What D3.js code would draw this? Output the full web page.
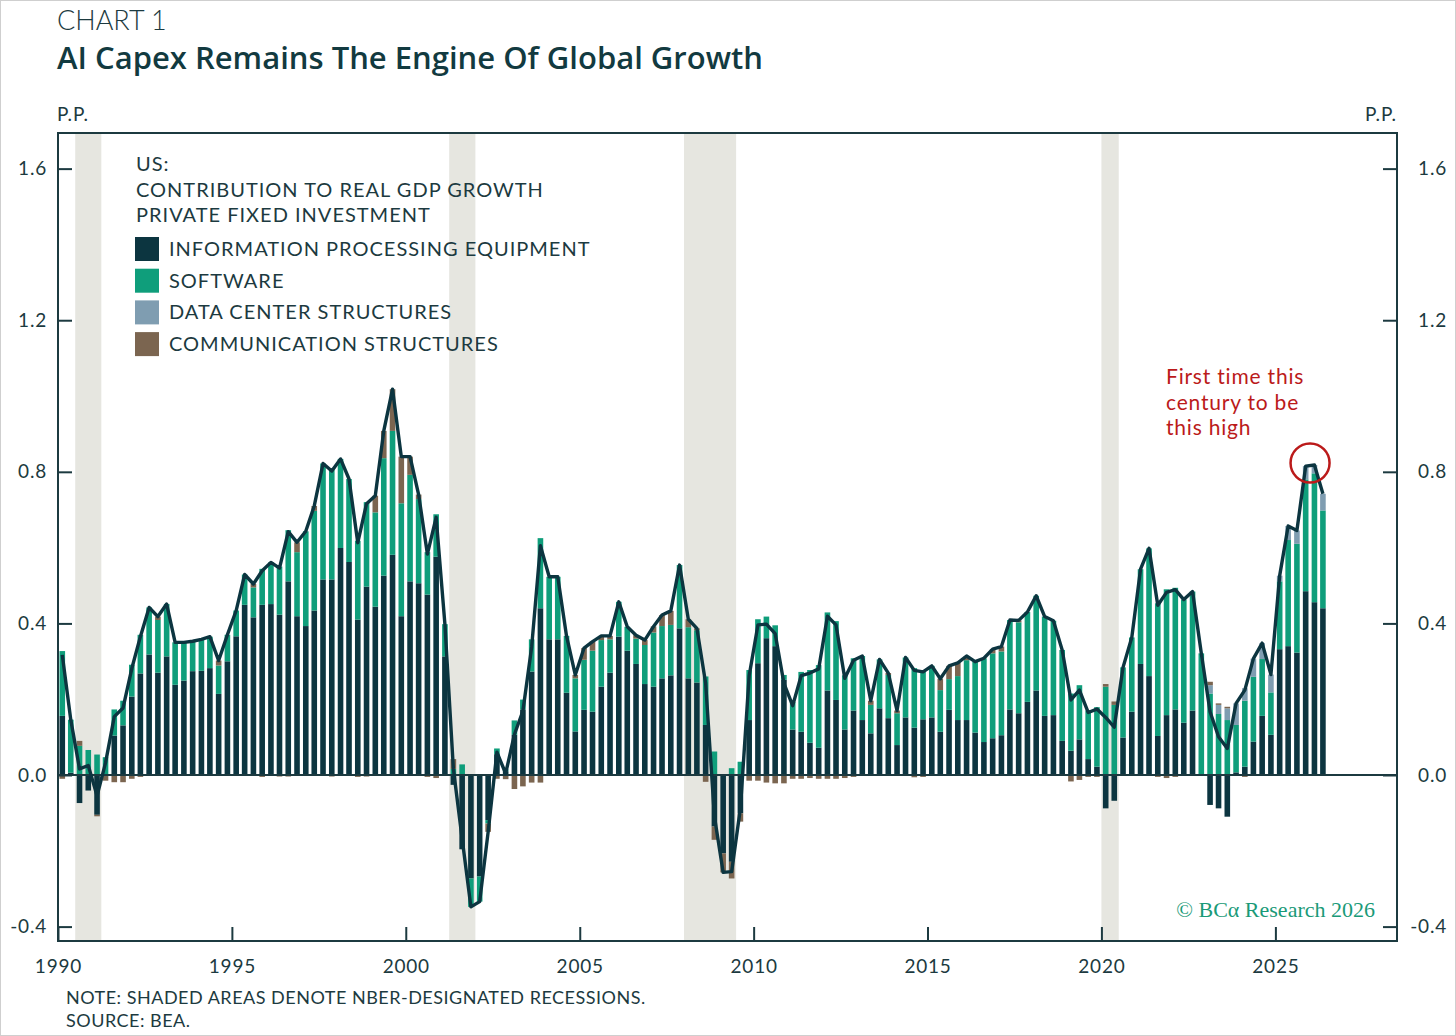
<!DOCTYPE html>
<html>
<head>
<meta charset="utf-8">
<script src="https://cdn.jsdelivr.net/npm/d3@7"></script>
<style>
body { margin: 0; background: #fff; }
</style>
</head>
<body>
<div id="chart"></div>
<script>
// Canvas
var w = 1456;
var h = 1036;
var plotLeft = 58, plotRight = 1397, plotTop = 133, plotBottom = 941;

// Quarterly data, 1990Q1 .. 2026Q2 (contribution to real GDP growth, p.p.)
var startYear = 1990;

var infoEquip = [
    0.156, 0.006, -0.074, -0.041, -0.105, 0.000, 0.104, 0.131,
    0.207, 0.268, 0.318, 0.270, 0.313, 0.238, 0.249, 0.274,
    0.275, 0.282, 0.214, 0.300, 0.366, 0.449, 0.416, 0.449,
    0.451, 0.423, 0.511, 0.419, 0.393, 0.434, 0.516, 0.516,
    0.599, 0.562, 0.410, 0.497, 0.444, 0.526, 0.581, 0.419,
    0.511, 0.506, 0.476, 0.576, 0.313, -0.026, -0.196, -0.273,
    -0.268, -0.119, 0.055, 0.010, 0.106, 0.173, 0.273, 0.440,
    0.358, 0.358, 0.217, 0.115, 0.172, 0.167, 0.233, 0.270,
    0.365, 0.328, 0.293, 0.240, 0.233, 0.255, 0.263, 0.387,
    0.255, 0.244, 0.132, -0.136, -0.207, -0.229, -0.101, 0.145,
    0.295, 0.361, 0.340, 0.251, 0.120, 0.114, 0.085, 0.072,
    0.223, 0.198, 0.120, 0.170, 0.145, 0.110, 0.176, 0.150,
    0.079, 0.152, 0.125, 0.147, 0.152, 0.114, 0.172, 0.145,
    0.145, 0.112, 0.087, 0.097, 0.105, 0.173, 0.163, 0.193,
    0.223, 0.156, 0.158, 0.090, 0.064, 0.094, 0.042, 0.022,
    -0.088, -0.068, 0.099, 0.167, 0.293, 0.261, 0.103, 0.158,
    0.173, 0.138, 0.170, 0.000, -0.079, -0.088, -0.110, 0.007,
    0.022, 0.088, 0.156, 0.106, 0.332, 0.340, 0.323, 0.485,
    0.456, 0.440
];

var software = [
    0.171, 0.140, 0.077, 0.066, 0.054, 0.047, 0.069, 0.065,
    0.084, 0.102, 0.124, 0.139, 0.138, 0.112, 0.101, 0.079,
    0.083, 0.083, 0.075, 0.070, 0.068, 0.080, 0.079, 0.095,
    0.110, 0.127, 0.135, 0.169, 0.250, 0.263, 0.306, 0.290,
    0.235, 0.219, 0.208, 0.223, 0.249, 0.310, 0.327, 0.298,
    0.281, 0.222, 0.112, 0.112, 0.085, 0.016, 0.028, -0.075,
    -0.066, -0.009, 0.015, 0.005, 0.038, 0.026, 0.085, 0.185,
    0.165, 0.165, 0.150, 0.140, 0.132, 0.161, 0.123, 0.088,
    0.092, 0.063, 0.067, 0.103, 0.143, 0.138, 0.133, 0.167,
    0.135, 0.138, 0.128, 0.062, 0.000, 0.018, 0.035, 0.132,
    0.116, 0.057, 0.055, 0.013, 0.073, 0.158, 0.192, 0.218,
    0.206, 0.208, 0.143, 0.138, 0.169, 0.075, 0.129, 0.114,
    0.084, 0.158, 0.157, 0.130, 0.136, 0.110, 0.081, 0.116,
    0.158, 0.187, 0.221, 0.224, 0.221, 0.236, 0.240, 0.237,
    0.250, 0.262, 0.249, 0.240, 0.151, 0.143, 0.128, 0.157,
    0.233, 0.185, 0.185, 0.196, 0.250, 0.337, 0.350, 0.332,
    0.321, 0.325, 0.314, 0.321, 0.215, 0.161, 0.145, 0.125,
    0.174, 0.171, 0.150, 0.112, 0.179, 0.280, 0.287, 0.295,
    0.340, 0.258
];

var dataCenter = [
    0, 0, 0, 0, 0, 0, 0, 0, 0, 0, 0, 0, 0, 0, 0, 0,
    0, 0, 0, 0, 0, 0, 0, 0, 0, 0, 0, 0, 0, 0, 0, 0,
    0, 0, 0, 0, 0, 0, 0, 0, 0, 0, 0, 0, 0, 0, 0, 0,
    0, 0, 0, 0, 0, 0, 0, 0, 0, 0, 0, 0, 0, 0, 0, 0,
    0, 0, 0, 0, 0, 0, 0, 0, 0, 0, 0, 0, 0, 0, 0, 0,
    0, 0, 0, 0, 0, 0, 0, 0, 0, 0, 0, 0, 0, 0, 0, 0,
    0, 0, 0, 0, 0, 0, 0, 0, 0, 0, 0, 0, 0, 0, 0, 0,
    0, 0, 0, 0, 0, 0, 0, 0, 0, 0, 0, 0, 0, 0, 0, 0,
    0, 0, 0, 0, 0.022, 0.024, 0.031, 0.057,
    0.033, 0.048, 0.042, 0.047, 0.015, 0.037, 0.035, 0.035,
    0.022, 0.044
];

var commStruct = [
    -0.010, 0.000, 0.013, 0.000, -0.004, -0.015, -0.019, -0.019,
    -0.010, -0.005, 0.000, 0.009, 0.000, 0.000, 0.000, 0.000,
    0.000, 0.000, 0.013, 0.000, 0.000, 0.000, 0.009, -0.005,
    0.000, -0.004, -0.004, 0.026, 0.000, 0.013, 0.000, -0.004,
    0.000, 0.000, -0.005, -0.004, 0.044, 0.072, 0.110, 0.123,
    0.048, 0.012, -0.005, -0.008, 0.000, 0.026, 0.000, 0.000,
    0.000, -0.022, -0.010, -0.011, -0.037, -0.030, -0.020, -0.020,
    0.000, 0.000, 0.000, 0.009, 0.031, 0.024, 0.011, 0.009,
    0.000, 0.000, 0.009, 0.013, 0.016, 0.029, 0.037, 0.000,
    0.021, 0.005, -0.018, -0.035, -0.050, -0.044, -0.022, -0.015,
    -0.015, -0.020, -0.022, -0.022, -0.010, -0.010, -0.008, -0.010,
    -0.010, -0.010, -0.008, -0.005, 0.000, 0.011, 0.000, 0.005,
    0.007, 0.000, -0.006, -0.005, 0.000, 0.030, 0.035, 0.035,
    0.011, 0.000, 0.000, 0.011, 0.013, 0.000, 0.005, 0.000,
    0.000, 0.000, 0.000, 0.000, -0.017, -0.013, -0.005, -0.005,
    0.007, 0.009, 0.000, 0.000, 0.000, 0.000, -0.005, -0.008,
    -0.005, 0.000, 0.000, 0.000, 0.009, 0.004, 0.004, 0.000,
    -0.005, 0.000, 0.000, 0.000, 0.000, 0.000, 0.000, 0.000,
    0.000, 0.000
];

var names = ["INFORMATION PROCESSING EQUIPMENT", "SOFTWARE", "DATA CENTER STRUCTURES", "COMMUNICATION STRUCTURES"];
var keys = ["infoEquip", "software", "dataCenter", "commStruct"];
var colors = ["#0c3540", "#0f9e7b", "#7f9db1", "#7b6550"];

// NBER recessions, shaded by quarter (start, end)
var recessions = [[1990.5, 1991.25], [2001.25, 2002.0], [2008.0, 2009.5], [2020.0, 2020.5]];

var yTicks = [-0.4, 0, 0.4, 0.8, 1.2, 1.6];
var xTickYears = [1990, 1995, 2000, 2005, 2010, 2015, 2020, 2025];

var ink = "#1c3a40";
var red = "#bb1a1a";
var sans = "Lato, sans-serif";

// build rows
var rows = infoEquip.map(function (v, i) {
    var yr = startYear + Math.floor(i / 4);
    var q = i % 4;
    return {
        date: new Date(yr, q * 3 + 1, 15),
        infoEquip: v,
        software: software[i],
        dataCenter: dataCenter[i],
        commStruct: commStruct[i],
        total: v + software[i] + dataCenter[i] + commStruct[i]
    };
});

var decimalDate = function (t) {
    var yr = Math.floor(t);
    return new Date(yr, Math.round((t - yr) * 12), 1);
};

var svg = d3.select("#chart")
    .append("svg")
    .attr("width", w)
    .attr("height", h)
    .attr("font-family", sans);

svg.append("rect")
    .attr("x", 0.5).attr("y", 0.5)
    .attr("width", w - 1).attr("height", h - 1)
    .attr("fill", "#fff")
    .attr("stroke", "#cfcfcf");

var xScale = d3.scaleTime()
    .domain([new Date(1990, 0, 1), new Date(2028, 6, 1)])
    .range([plotLeft, plotRight]);

var yScale = d3.scaleLinear()
    .domain([-0.438, 1.694])
    .range([plotBottom, plotTop]);

var barW = 5.6;

// recession shading
svg.selectAll("rect.rec")
    .data(recessions)
    .enter()
    .append("rect")
    .attr("class", "rec")
    .attr("x", function (d) { return xScale(decimalDate(d[0])); })
    .attr("width", function (d) { return xScale(decimalDate(d[1])) - xScale(decimalDate(d[0])); })
    .attr("y", plotTop)
    .attr("height", plotBottom - plotTop)
    .attr("fill", "#e6e6e0");

// stacked bars
var stacked = d3.stack()
    .keys(keys)
    .offset(d3.stackOffsetDiverging)(rows);

svg.append("g")
    .selectAll("g")
    .data(stacked)
    .enter()
    .append("g")
    .attr("fill", function (d, i) { return colors[i]; })
    .selectAll("rect")
    .data(function (d) { return d.filter(function (p) { return p[1] !== p[0]; }); })
    .enter()
    .append("rect")
    .attr("x", function (d) { return xScale(d.data.date) - barW / 2; })
    .attr("y", function (d) { return yScale(Math.max(d[0], d[1])); })
    .attr("height", function (d) { return Math.abs(yScale(d[0]) - yScale(d[1])); })
    .attr("width", barW);

// zero line
svg.append("line")
    .attr("x1", plotLeft).attr("x2", plotRight)
    .attr("y1", yScale(0)).attr("y2", yScale(0))
    .attr("stroke", ink)
    .attr("stroke-width", 2);

// total line
var totalLine = d3.line()
    .x(function (d) { return xScale(d.date); })
    .y(function (d) { return yScale(d.total); });

svg.append("path")
    .datum(rows)
    .attr("d", totalLine)
    .attr("fill", "none")
    .attr("stroke", "#0c3540")
    .attr("stroke-width", 3.4)
    .attr("stroke-linejoin", "round");

// axes
var fmt = function (d) { return d3.format(".1f")(d).replace("\u2212", "-"); };

var yAxisL = d3.axisLeft(yScale).tickValues(yTicks).tickSize(-14).tickPadding(11).tickFormat(fmt);
var yAxisR = d3.axisRight(yScale).tickValues(yTicks).tickSize(-14).tickPadding(50).tickFormat(fmt);
var xAxis = d3.axisBottom(xScale)
    .tickValues(xTickYears.map(function (y) { return new Date(y, 0, 1); }))
    .tickSize(-14).tickPadding(19)
    .tickFormat(d3.timeFormat("%Y"));

var styleAxis = function (g) {
    g.select(".domain").remove();
    g.selectAll("line").attr("stroke", ink).attr("stroke-width", 2);
    g.selectAll("text").attr("fill", ink).attr("font-size", "19px")
        .attr("letter-spacing", "0.8px")
        .attr("font-family", sans);
};

svg.append("g").attr("transform", "translate(" + plotLeft + ",0)").call(yAxisL).call(styleAxis);
svg.append("g").attr("transform", "translate(" + plotRight + ",0)").call(yAxisR).call(styleAxis)
    .selectAll("text").attr("text-anchor", "end");
svg.append("g").attr("transform", "translate(0," + plotBottom + ")").call(xAxis).call(styleAxis);

// frame
svg.append("rect")
    .attr("x", plotLeft).attr("y", plotTop)
    .attr("width", plotRight - plotLeft)
    .attr("height", plotBottom - plotTop)
    .attr("fill", "none")
    .attr("stroke", ink)
    .attr("stroke-width", 2);

// titles
svg.append("text")
    .attr("x", 57).attr("y", 30)
    .attr("fill", ink)
    .attr("font-size", "27px")
    .attr("font-weight", 300)
    .text("CHART 1");

svg.append("text")
    .attr("x", 57).attr("y", 69)
    .attr("fill", "#123a40")
    .attr("font-size", "31px")
    .attr("font-weight", 600)
    .attr("font-family", "'Open Sans', sans-serif")
    .text("AI Capex Remains The Engine Of Global Growth");

svg.append("text")
    .attr("x", 57).attr("y", 121)
    .attr("fill", ink).attr("font-size", "19px")
    .attr("letter-spacing", "1px")
    .text("P.P.");

svg.append("text")
    .attr("x", 1397).attr("y", 121)
    .attr("text-anchor", "end")
    .attr("fill", ink).attr("font-size", "19px")
    .attr("letter-spacing", "1px")
    .text("P.P.");

// legend
var header = ["US:", "CONTRIBUTION TO REAL GDP GROWTH", "PRIVATE FIXED INVESTMENT"];
svg.selectAll("text.hdr")
    .data(header)
    .enter()
    .append("text")
    .attr("class", "hdr")
    .attr("x", 136)
    .attr("y", function (d, i) { return 171 + i * 25.5; })
    .attr("fill", ink)
    .attr("font-size", "20px")
    .attr("letter-spacing", "1px")
    .text(function (d) { return d; });

svg.selectAll("rect.key")
    .data(colors)
    .enter()
    .append("rect")
    .attr("class", "key")
    .attr("x", 135)
    .attr("y", function (d, i) { return 237 + i * 31.7; })
    .attr("width", 24)
    .attr("height", 24)
    .attr("fill", function (d) { return d; });

svg.selectAll("text.key")
    .data(names)
    .enter()
    .append("text")
    .attr("class", "key")
    .attr("x", 169)
    .attr("y", function (d, i) { return 256 + i * 31.7; })
    .attr("fill", ink)
    .attr("font-size", "20px")
    .attr("letter-spacing", "1px")
    .text(function (d) { return d; });

// annotation
var note = ["First time this", "century to be", "this high"];
svg.selectAll("text.note")
    .data(note)
    .enter()
    .append("text")
    .attr("class", "note")
    .attr("x", 1166)
    .attr("y", function (d, i) { return 384 + i * 25.5; })
    .attr("fill", red)
    .attr("font-size", "21px")
    .attr("letter-spacing", "0.8px")
    .text(function (d) { return d; });

var peakA = rows[rows.length - 3], peakB = rows[rows.length - 2];
svg.append("circle")
    .attr("cx", (xScale(peakA.date) + xScale(peakB.date)) / 2)
    .attr("cy", yScale(Math.max(peakA.total, peakB.total)) - 2)
    .attr("r", 19.5)
    .attr("fill", "none")
    .attr("stroke", red)
    .attr("stroke-width", 2.5);

// branding
svg.append("text")
    .attr("x", 1375).attr("y", 917)
    .attr("text-anchor", "end")
    .attr("fill", "#1a9a78")
    .attr("font-size", "22px")
    .attr("font-family", "'Liberation Serif', 'DejaVu Serif', serif")
    .text("\u00a9 BC\u03b1 Research 2026");

// footer
svg.append("text")
    .attr("x", 66).attr("y", 1004)
    .attr("fill", ink).attr("font-size", "18px")
    .attr("letter-spacing", "0.5px")
    .text("NOTE: SHADED AREAS DENOTE NBER-DESIGNATED RECESSIONS.");

svg.append("text")
    .attr("x", 66).attr("y", 1027)
    .attr("fill", ink).attr("font-size", "18px")
    .attr("letter-spacing", "0.5px")
    .text("SOURCE: BEA.");
</script>
</body>
</html>
